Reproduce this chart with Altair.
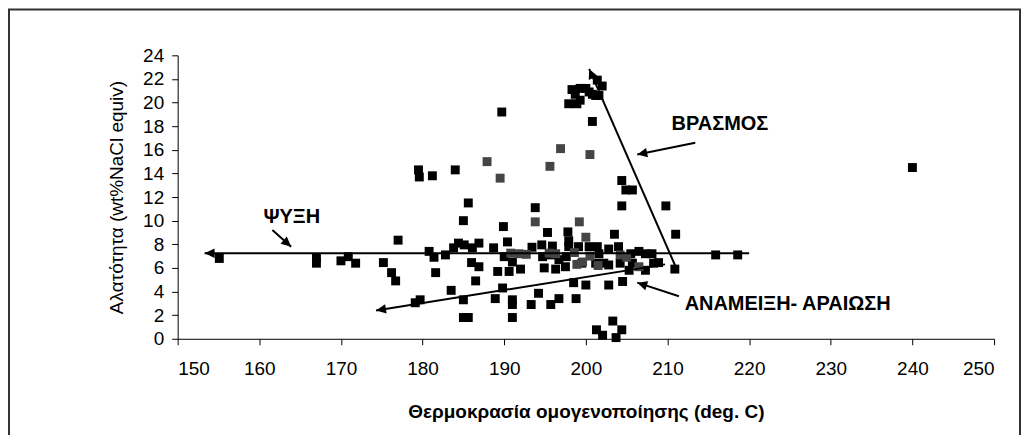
import altair as alt
import pandas as pd
import numpy as np

# ---------------- data ----------------
temp_black = [155.1, 167.0, 167.0, 170.0, 170.9, 171.8, 175.2, 176.2, 176.7, 177.0,
              179.1, 179.7, 179.5, 179.6, 181.2, 180.8, 181.4, 181.6, 182.8, 183.8,
              184.4, 185.1, 183.5, 184.0, 185.0, 185.6, 186.1, 186.9, 186.0, 186.9,
              186.5, 185.0, 185.0, 185.6, 188.7, 190.4, 189.7, 189.9, 189.2, 190.6,
              189.8, 188.9, 190.0, 191.0, 192.0, 191.0, 191.0, 191.0, 193.4, 193.8,
              193.3, 194.2, 194.6, 195.9, 194.7, 195.7, 194.9, 196.3, 196.7, 195.3,
              195.7, 196.7, 197.8, 197.9, 197.9, 197.6, 197.5, 198.5, 200.0, 198.8,
              199.1, 200.4, 201.4, 199.5, 201.2, 202.2, 201.6, 202.8, 204.0, 205.5,
              206.5, 207.3, 208.1, 208.9, 202.8, 204.2, 205.7, 205.3, 207.3, 208.3,
              202.8, 204.5, 201.3, 202.05, 203.3, 204.4, 203.7, 200.8, 203.5, 211.0,
              204.4, 204.9, 205.7, 204.4, 209.8, 210.9, 215.9, 218.6, 240.0,
              197.9, 198.3, 198.9, 199.3, 199.3, 200.0, 200.8, 201.2, 201.4, 201.6,
              202.0, 198.7, 200.4]
sal_black = [6.8, 6.85, 6.4, 6.6, 6.95, 6.4, 6.45, 5.6, 4.9, 8.35,
             3.05, 3.3, 14.3, 13.7, 13.8, 7.4, 6.9, 5.6, 7.1, 7.7,
             8.1, 7.95, 4.1, 14.3, 10.0, 11.5, 7.7, 8.1, 6.45, 6.1,
             4.9, 3.3, 1.8, 1.8, 7.7, 8.2, 19.2, 9.5, 5.7, 5.7,
             4.3, 3.4, 6.95, 6.5, 5.9, 3.3, 2.9, 1.8, 7.75, 11.1,
             2.9, 3.85, 7.95, 7.85, 6.95, 7.1, 6.0, 5.9, 6.7, 9.0,
             2.9, 3.4, 9.05, 8.3, 7.8, 6.95, 6.1, 4.75, 4.55, 3.4,
             7.8, 7.8, 7.8, 6.4, 6.4, 6.4, 7.2, 7.6, 7.8, 7.2,
             7.4, 7.2, 7.2, 6.45, 6.25, 6.4, 6.4, 5.8, 5.8, 6.4,
             4.55, 4.85, 0.76, 0.3, 1.5, 0.76, 0.1, 18.4, 8.85, 8.85,
             13.4, 12.6, 12.6, 11.25, 11.25, 5.9, 7.1, 7.1, 14.5,
             19.9, 21.1, 19.9, 20.2, 21.2, 21.2, 20.7, 20.6, 21.9, 20.6,
             21.4, 20.7, 20.9]

temp_gray = [187.9, 189.5, 195.6, 196.9, 200.5, 193.8, 199.2, 200.0,
             190.8, 191.8, 192.7, 195.5, 196.3, 198.6, 199.6, 200.5, 201.5,
             198.9, 204.2, 206.5, 205.0]
sal_gray = [15.0, 13.6, 14.6, 16.1, 15.6, 9.9, 9.9, 8.6,
            7.25, 7.2, 7.15, 7.25, 7.2, 7.3, 6.5, 7.0, 6.2,
            6.3, 7.1, 6.1, 6.9]

# trend arrows (tail -> tip)
arrow_names = ["cool", "mix", "boil", "p_cool", "p_boil", "p_mix"]
arrow_x0 = [220.0, 209.7, 211.0, 161.6, 213.4, 211.4]
arrow_y0 = [7.25, 6.3, 6.1, 9.2, 16.6, 3.6]
arrow_x1 = [153.3, 174.3, 200.4, 163.9, 206.3, 206.3]
arrow_y1 = [7.25, 2.4, 22.85, 7.8, 15.6, 4.75]

label_text = ["ΨΥΞΗ", "ΒΡΑΣΜΟΣ", "ΑΝΑΜΕΙΞΗ- ΑΡΑΙΩΣΗ"]
label_x = [160.5, 210.5, 212.1]
label_y = [10.3, 18.2, 2.95]

x_ticks = list(range(150, 251, 10))
y_ticks = list(range(0, 25, 2))

W, H = 818, 284
FONT = "Liberation Sans"

pts = pd.concat([
    pd.DataFrame({"t": temp_black, "s": sal_black, "grp": "a"}),
    pd.DataFrame({"t": temp_gray, "s": sal_gray, "grp": "b"}),
], ignore_index=True)

xs = alt.Scale(domain=[150, 250], nice=False, zero=False)
ys = alt.Scale(domain=[0, 24], nice=False, zero=False)

x_axis = alt.Axis(values=x_ticks, title="Θερμοκρασία ομογενοποίησης (deg. C)",
                  titleFontWeight="bold", titlePadding=24, labelPadding=15,
                  labelOverlap=False, grid=False, tickCount=11)
y_axis = alt.Axis(values=y_ticks, title="Αλατότητα (wt%NaCl equiv)",
                  titleFontWeight="normal", titlePadding=16, labelPadding=8,
                  labelOverlap=False, grid=False, tickCount=13)


def X():
    return alt.X("t:Q", scale=xs, axis=x_axis)


def Y():
    return alt.Y("s:Q", scale=ys, axis=y_axis)


scatter = alt.Chart(pts).mark_point(shape="square", filled=True, size=80, opacity=1).encode(
    x=X(), y=Y(),
    color=alt.Color("grp:N", scale=alt.Scale(domain=["a", "b"], range=["#000000", "#454545"]),
                    legend=None),
)

seg_rows = []
for n, a, b, c, d in zip(arrow_names, arrow_x0, arrow_y0, arrow_x1, arrow_y1):
    seg_rows.append({"name": n, "t": a, "s": b, "o": 0})
    seg_rows.append({"name": n, "t": c, "s": d, "o": 1})
segs = pd.DataFrame(seg_rows)

lines = alt.Chart(segs).mark_line(color="black", strokeWidth=2).encode(
    x=X(), y=Y(), detail="name:N", order="o:Q",
)

sx, sy = W / 100.0, H / 24.0
heads = pd.DataFrame({
    "t": arrow_x1, "s": arrow_y1,
    "ang": [float(np.degrees(np.arctan2((c - a) * sx, (d - b) * sy)) % 360)
            for a, b, c, d in zip(arrow_x0, arrow_y0, arrow_x1, arrow_y1)],
})
arrowheads = alt.Chart(heads).mark_point(
    shape="M0,0L1,2.1L-1,2.1Z", filled=True, size=90, color="black", opacity=1
).encode(
    x=X(), y=Y(), angle=alt.Angle("ang:Q", scale=None),
)

labels = alt.Chart(pd.DataFrame({"txt": label_text, "t": label_x, "s": label_y})).mark_text(
    align="left", baseline="middle", fontWeight="bold", fontSize=20, font=FONT, color="black"
).encode(x=X(), y=Y(), text="txt:N")

border = alt.Chart(pd.DataFrame({"k": [0]})).mark_rect(
    fillOpacity=0, stroke="#333333", strokeWidth=2
).encode(x=alt.value(-169), x2=alt.value(844), y=alt.value(-46), y2=alt.value(430))

chart = alt.layer(border, scatter, lines, arrowheads, labels).properties(
    width=W, height=H,
    padding={"left": 170, "top": 47, "right": 27, "bottom": 96},
    autosize=alt.AutoSizeParams(type="none"),
    background="white",
).configure_view(stroke=None).configure_axis(
    grid=False, domainColor="black", tickColor="black", tickSize=6,
    labelColor="black", titleColor="black", labelFont=FONT, titleFont=FONT,
    labelFontSize=19, titleFontSize=19,
)

chart.save("out.html", embed_options={"renderer": "svg", "actions": False})
